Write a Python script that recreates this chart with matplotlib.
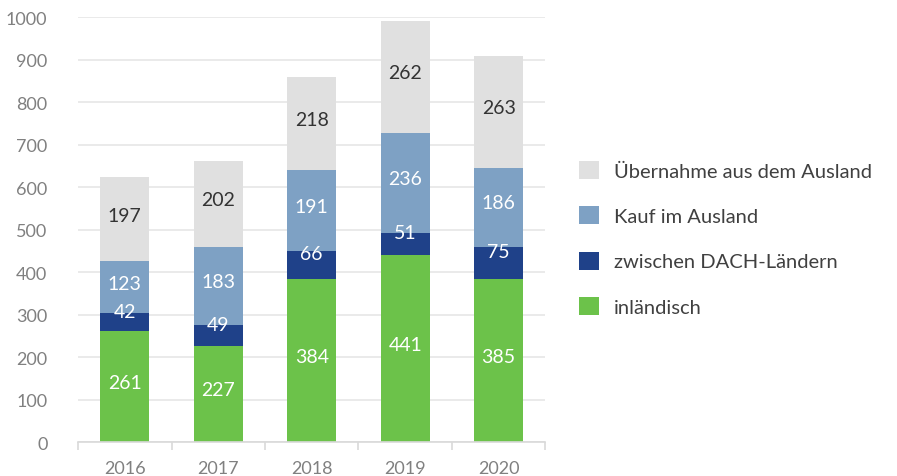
import numpy as np
import matplotlib
matplotlib.use("Agg")
import matplotlib.pyplot as plt

plt.rcParams["font.family"] = ["Lato", "DejaVu Sans"]

years = ["2016", "2017", "2018", "2019", "2020"]
inlaendisch = [261, 227, 384, 441, 385]
dach = [42, 49, 66, 51, 75]
kauf_ausland = [123, 183, 191, 236, 186]
uebernahme = [197, 202, 218, 262, 263]

series = [
    ("inländisch", inlaendisch, "#6cc24a", "white", 3),
    ("zwischen DACH-Ländern", dach, "#1f4189", "white", 8),
    ("Kauf im Ausland", kauf_ausland, "#7ea1c4", "white", 3),
    ("Übernahme aus dem Ausland", uebernahme, "#e0e0e0", "#333333", 3),
]

fig = plt.figure(figsize=(8.97, 4.77), dpi=100)
ax = fig.add_axes([0.087, 0.071, 0.521, 0.891])

x = np.arange(len(years))
bottom = np.zeros(len(years))
handles = []
for name, vals, color, txt_color, dy in series:
    vals = np.array(vals)
    bars = ax.bar(x, vals, width=0.525, bottom=bottom, color=color, label=name, zorder=2)
    handles.append(bars)
    for xi, b, v in zip(x, bottom, vals):
        ax.annotate(str(v), (xi, b + v / 2), xytext=(0, dy), textcoords="offset points",
                    ha="center", va="center", fontsize=14, color=txt_color, zorder=3)
    bottom = bottom + vals

ax.set_xlim(-0.5, len(years) - 0.5)
ax.set_ylim(0, 1000)
ax.set_yticks(np.arange(0, 1001, 100))
ax.yaxis.grid(True, color="#e6e6e6", linewidth=1.2, zorder=0)
ax.set_axisbelow(True)

ax.set_xticks(x)
ax.set_xticklabels(years)
ax.set_xticks(np.arange(-0.5, len(years), 1), minor=True)
ax.tick_params(axis="x", which="major", length=0, pad=13, labelsize=13, labelcolor="#808080")
ax.tick_params(axis="x", which="minor", length=6, color="#d9d9d9", width=1.2)
ax.tick_params(axis="y", length=0, pad=22, labelsize=13, labelcolor="#808080")

for s in ["top", "right", "left"]:
    ax.spines[s].set_visible(False)
ax.spines["bottom"].set_color("#d9d9d9")
ax.spines["bottom"].set_linewidth(1.2)

fig.legend(handles[::-1], [s[0] for s in series][::-1], loc="center left",
           bbox_to_anchor=(0.625, 0.498), frameon=False, fontsize=14.5,
           handlelength=1.0, handleheight=1.0, handletextpad=0.75,
           labelspacing=1.3, labelcolor="#404040")

fig.savefig("out.png", dpi=100)
